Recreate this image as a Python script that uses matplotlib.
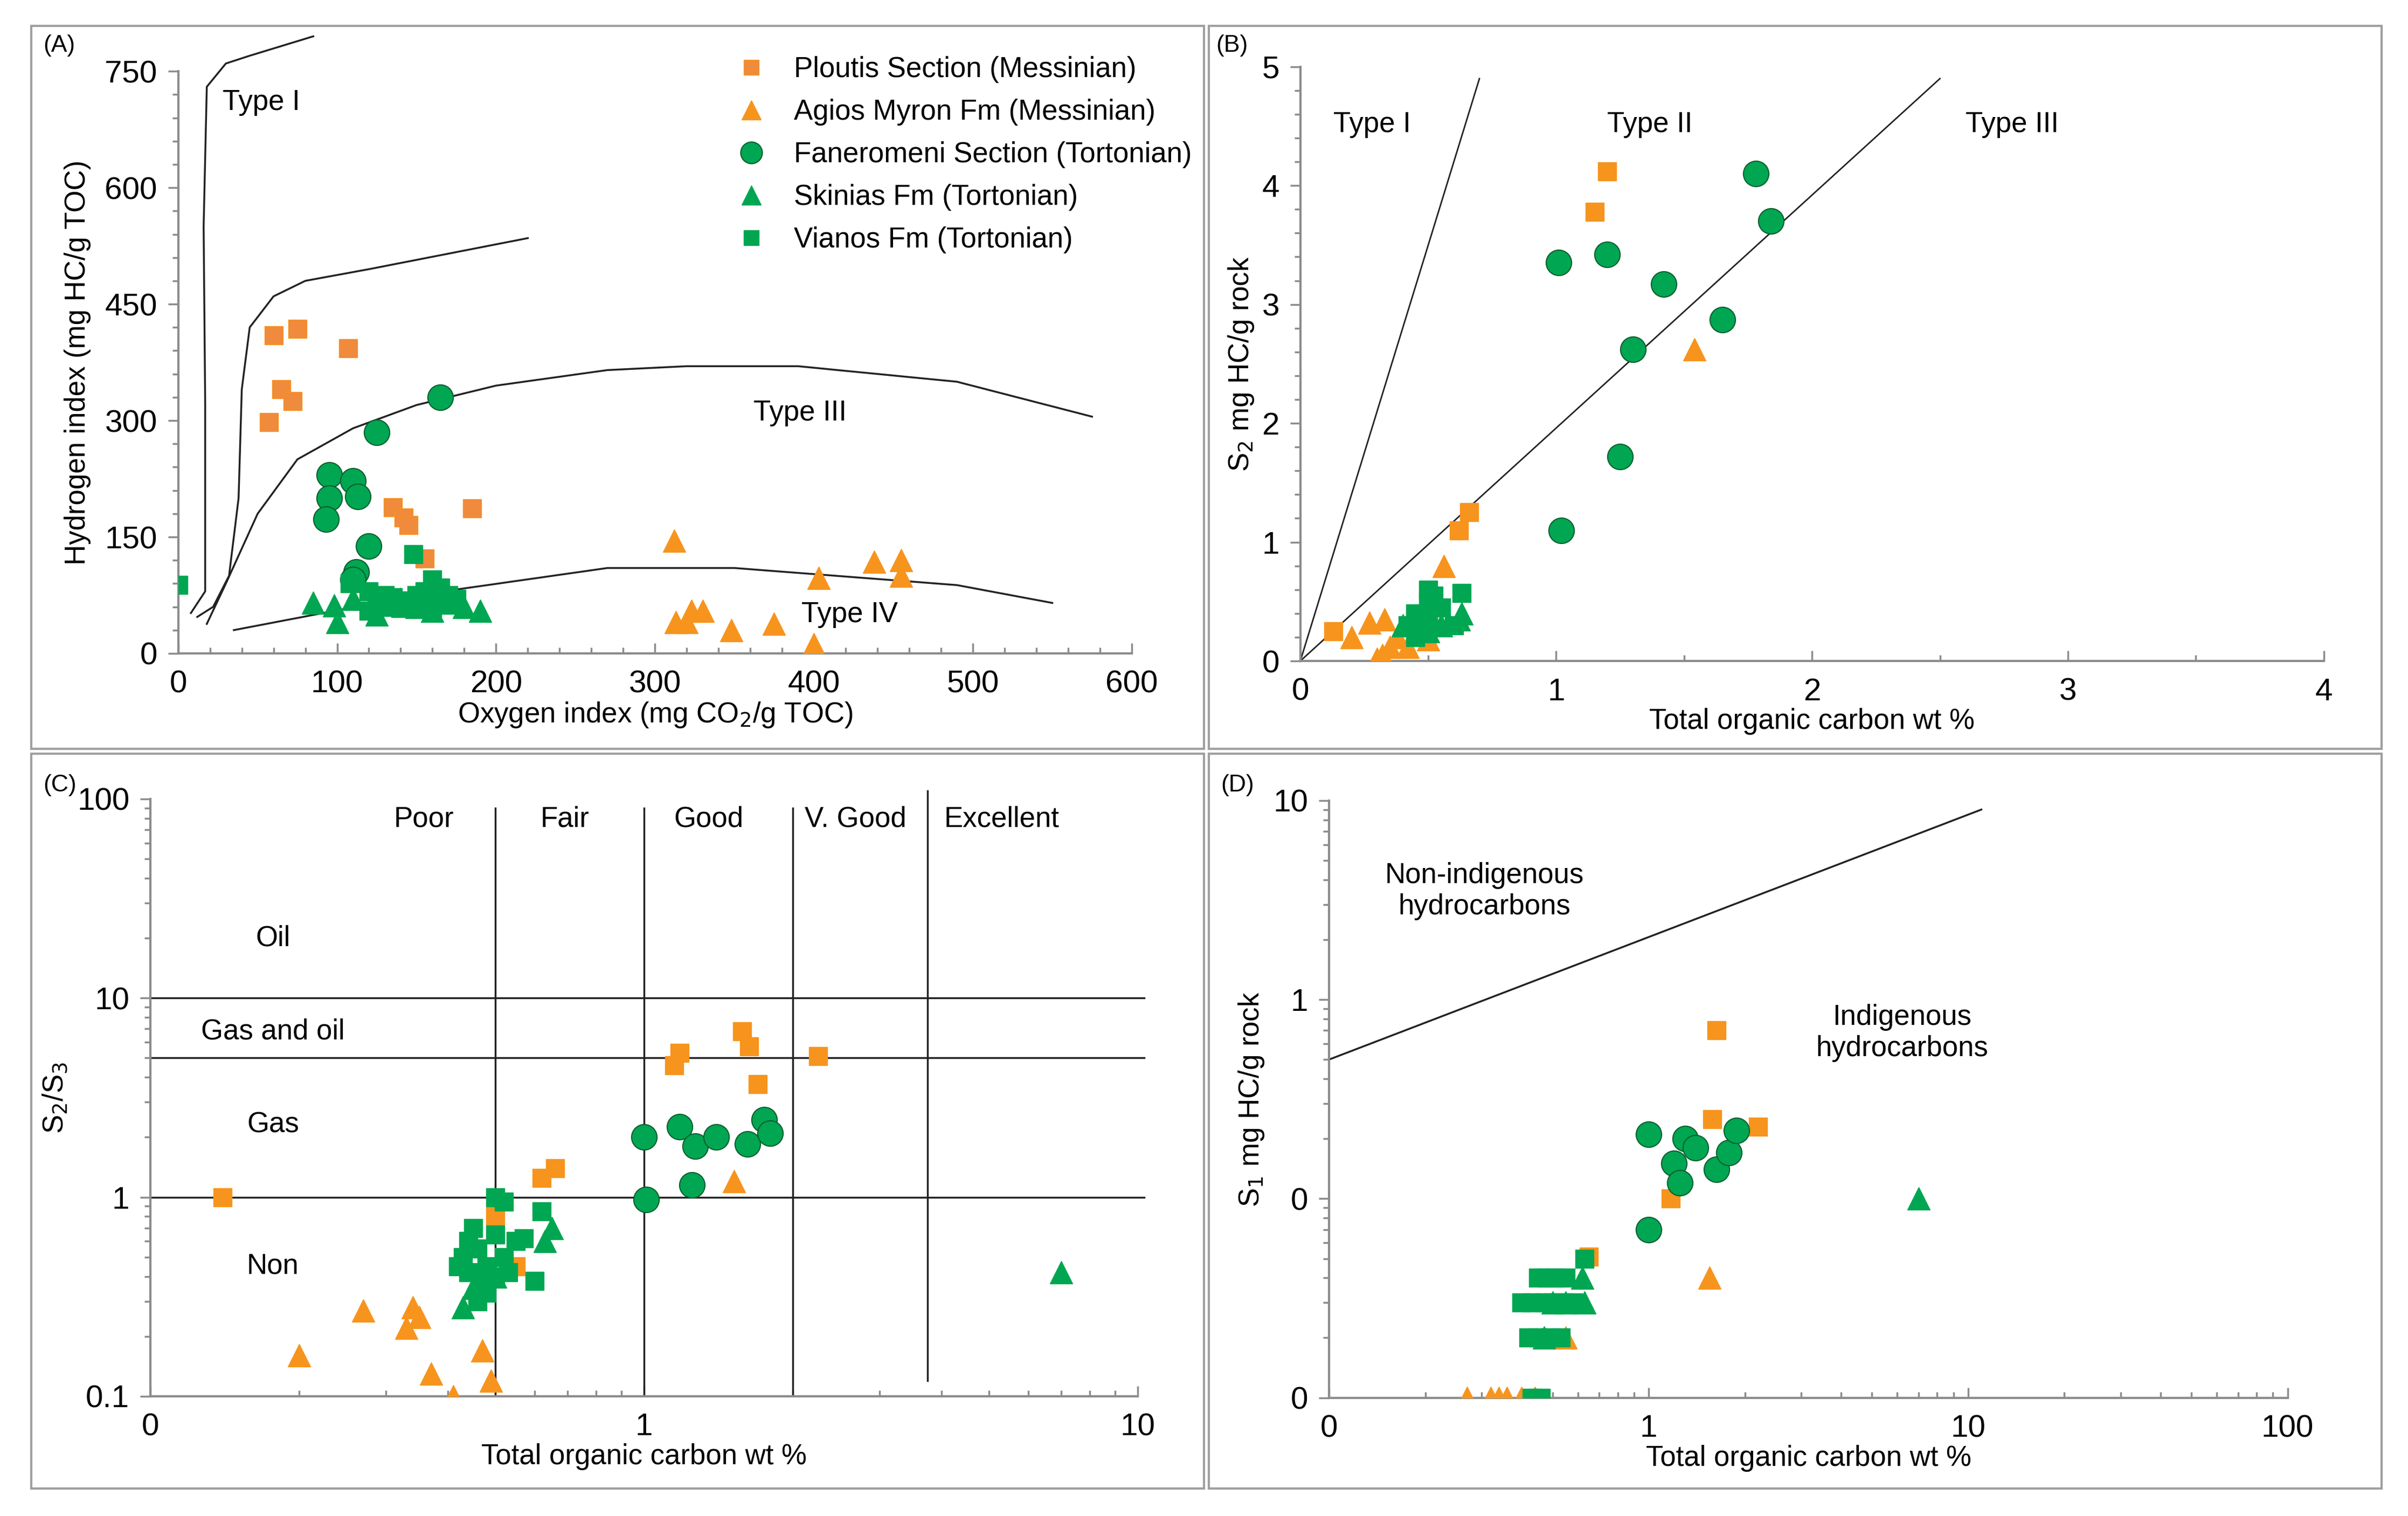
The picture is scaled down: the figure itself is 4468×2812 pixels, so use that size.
import numpy as np
import matplotlib.pyplot as plt
from matplotlib.patches import Rectangle
from matplotlib.ticker import MultipleLocator, FixedLocator, FixedFormatter, LogLocator, NullFormatter

plt.rcParams['font.family'] = ['Liberation Sans', 'DejaVu Sans']

ORANGE = '#F7941D'
ORANGE2 = '#F08A3C'
GREEN = '#00A651'
DKGREEN = '#0B5E2E'

names = ["Ploutis Section (Messinian)", "Agios Myron Fm (Messinian)",
         "Faneromeni Section (Tortonian)", "Skinias Fm (Tortonian)", "Vianos Fm (Tortonian)"]

# ---- panel A: OI vs HI
a_plo_x = [60, 75, 107, 65, 72, 57, 135, 142, 145, 185, 155]
a_plo_y = [410, 418, 393, 340, 325, 298, 188, 175, 165, 187, 122]
a_agi_x = [312, 313, 320, 323, 330, 348, 375, 400, 403, 438, 455, 455]
a_agi_y = [145, 40, 40, 55, 55, 30, 38, 12, 97, 118, 120, 100]
a_fan_x = [95, 95, 93, 110, 113, 125, 165, 120, 112, 110]
a_fan_y = [230, 200, 173, 222, 202, 285, 330, 138, 105, 95]
a_ski_x = [85, 98, 100, 110, 125, 140, 150, 165, 175, 180, 190, 170, 160]
a_ski_y = [65, 62, 40, 70, 50, 70, 60, 75, 70, 60, 55, 65, 55]
a_via_x = [0, 148, 108, 120, 125, 130, 135, 140, 145, 150, 155, 160, 165, 170, 175, 130, 140, 150, 160, 120]
a_via_y = [88, 128, 90, 80, 65, 75, 72, 68, 65, 75, 80, 95, 85, 75, 70, 60, 58, 62, 58, 55]

type1_x = [8, 17, 17, 16, 18, 30, 45, 85]
type1_y = [52, 80, 320, 550, 730, 760, 770, 795]
type2_x = [12, 22, 32, 38, 40, 45, 60, 80, 120, 220]
type2_y = [47, 60, 100, 200, 340, 420, 460, 480, 495, 535]
type3_x = [18, 30, 50, 75, 110, 150, 200, 270, 320, 390, 490, 575]
type3_y = [38, 90, 180, 250, 290, 320, 345, 365, 370, 370, 350, 305]
type4_x = [35, 150, 270, 350, 490, 550]
type4_y = [30, 75, 110, 110, 88, 65]

# ---- panel B: TOC vs S2
b_plo_x = [0.13, 1.15, 1.2, 0.62, 0.66]
b_plo_y = [0.25, 3.78, 4.12, 1.1, 1.25]
b_agi_x = [0.2, 0.27, 0.33, 0.3, 0.32, 0.35, 0.42, 0.5, 0.56, 1.54, 0.38]
b_agi_y = [0.2, 0.32, 0.35, 0.02, 0.05, 0.12, 0.12, 0.18, 0.8, 2.62, 0.2]
b_fan_x = [1.01, 1.2, 1.42, 1.78, 1.84, 1.65, 1.3, 1.25, 1.02]
b_fan_y = [3.35, 3.42, 3.17, 4.1, 3.7, 2.87, 2.62, 1.72, 1.1]
b_ski_x = [0.4, 0.45, 0.5, 0.63, 0.62, 0.55]
b_ski_y = [0.3, 0.35, 0.25, 0.4, 0.35, 0.3]
b_via_x = [0.42, 0.45, 0.5, 0.5, 0.55, 0.6, 0.63, 0.48, 0.52, 0.45, 0.5]
b_via_y = [0.3, 0.4, 0.6, 0.5, 0.45, 0.3, 0.57, 0.35, 0.55, 0.2, 0.3]

# ---- panel C: TOC vs S2/S3
c_plo_x = [0.14, 1.15, 1.18, 1.58, 1.63, 1.7, 2.25, 0.62, 0.66, 0.5, 0.55]
c_plo_y = [1.0, 4.6, 5.3, 6.8, 5.7, 3.7, 5.1, 1.25, 1.4, 0.8, 0.45]
c_agi_x = [0.2, 0.27, 0.33, 0.35, 0.34, 0.37, 0.41, 0.47, 0.49, 1.52]
c_agi_y = [0.16, 0.27, 0.22, 0.25, 0.28, 0.13, 0.1, 0.17, 0.12, 1.2]
c_fan_x = [1.0, 1.01, 1.18, 1.27, 1.4, 1.62, 1.75, 1.8, 1.25]
c_fan_y = [2.0, 0.97, 2.25, 1.8, 2.0, 1.85, 2.45, 2.1, 1.15]
c_ski_x = [7.0, 0.63, 0.65, 0.43, 0.45, 0.5]
c_ski_y = [0.42, 0.6, 0.7, 0.28, 0.35, 0.4]
c_via_x = [0.5, 0.52, 0.45, 0.44, 0.42, 0.43, 0.46, 0.48, 0.5, 0.52, 0.55, 0.57, 0.6, 0.62, 0.48, 0.47, 0.44, 0.5, 0.53, 0.46]
c_via_y = [1.0, 0.95, 0.7, 0.6, 0.45, 0.5, 0.55, 0.45, 0.4, 0.5, 0.6, 0.62, 0.38, 0.85, 0.33, 0.38, 0.42, 0.65, 0.42, 0.3]
quality_x = [0.5, 1, 2]
excellent_x = 3.75
ratio_y = [10, 5, 1]

# ---- panel D: TOC vs S1
d_plo_x = [1.63, 1.58, 2.2, 1.17, 0.65]
d_plo_y = [0.7, 0.25, 0.23, 0.1, 0.051]
d_agi_x = [0.27, 0.32, 0.34, 0.36, 0.4, 0.44, 1.55, 0.55]
d_agi_y = [0.01, 0.01, 0.01, 0.01, 0.01, 0.01, 0.04, 0.02]
d_fan_x = [1.0, 1.2, 1.3, 1.4, 1.25, 1.63, 1.78, 1.88, 1.0]
d_fan_y = [0.21, 0.15, 0.2, 0.18, 0.12, 0.14, 0.17, 0.22, 0.07]
d_ski_x = [7.0, 0.62, 0.63, 0.55, 0.5, 0.47]
d_ski_y = [0.1, 0.04, 0.03, 0.03, 0.03, 0.02]
d_via_x = [0.45, 0.48, 0.51, 0.55, 0.4, 0.43, 0.47, 0.5, 0.54, 0.58, 0.42, 0.45, 0.49, 0.53, 0.43, 0.46, 0.63]
d_via_y = [0.04, 0.04, 0.04, 0.04, 0.03, 0.03, 0.03, 0.03, 0.03, 0.03, 0.02, 0.02, 0.02, 0.02, 0.01, 0.01, 0.05]
d_line_x = [0.1, 11]
d_line_y = [0.5, 9]

TICK = 42
LAB = 38


def scatter_all(ax, sets, legend=False):
    styles = [dict(marker='s', color=ORANGE, ms=24, mec=ORANGE),
              dict(marker='^', color=ORANGE, ms=30, mec=ORANGE),
              dict(marker='o', color=GREEN, ms=34, mec=DKGREEN, mew=1.5),
              dict(marker='^', color=GREEN, ms=30, mec=GREEN),
              dict(marker='s', color=GREEN, ms=24, mec=GREEN)]
    for (x, y), st, nm in zip(sets, styles, names):
        ax.plot(x, y, ls='none', label=nm, zorder=3, **st)
    if legend:
        h, l = ax.get_legend_handles_labels()
        h[0].set_color(ORANGE2)
        ax.legend(h, l, loc='upper right', bbox_to_anchor=(1.09, 1.07), frameon=False,
                  fontsize=LAB, handletextpad=0.5, labelspacing=0.55, markerscale=0.85)


def style(ax):
    for s in ['top', 'right']:
        ax.spines[s].set_visible(False)
    for s in ['left', 'bottom']:
        ax.spines[s].set_color('#8c8c8c')
        ax.spines[s].set_linewidth(3)
    ax.tick_params(which='both', colors='#8c8c8c', labelcolor='black', labelsize=TICK, width=2.5)
    ax.tick_params(axis='y', which='major', direction='out', length=14, pad=14)
    ax.tick_params(axis='y', which='minor', direction='out', length=8)
    ax.tick_params(axis='x', which='major', direction='in', length=14, pad=22)
    ax.tick_params(axis='x', which='minor', direction='in', length=8)


def log_ticks(ax, xt, xl, yt, yl):
    ax.xaxis.set_major_locator(FixedLocator(xt))
    ax.xaxis.set_major_formatter(FixedFormatter(xl))
    ax.yaxis.set_major_locator(FixedLocator(yt))
    ax.yaxis.set_major_formatter(FixedFormatter(yl))
    ax.xaxis.set_minor_locator(LogLocator(subs=np.arange(2, 10)))
    ax.yaxis.set_minor_locator(LogLocator(subs=np.arange(2, 10)))
    ax.xaxis.set_minor_formatter(NullFormatter())
    ax.yaxis.set_minor_formatter(NullFormatter())


fig = plt.figure(figsize=(44.68, 28.12), dpi=100)

# panel frames
for (x0, y0, w, h) in [(0.013, 0.506, 0.487, 0.477), (0.502, 0.506, 0.487, 0.477),
                       (0.013, 0.018, 0.487, 0.485), (0.502, 0.018, 0.487, 0.485)]:
    fig.patches.append(Rectangle((x0, y0), w, h, transform=fig.transFigure,
                                 fill=False, ec='#a0a0a0', lw=3))

# A
ax = fig.add_axes([0.074, 0.569, 0.396, 0.384])
style(ax)
for cx, cy in [(type1_x, type1_y), (type2_x, type2_y), (type3_x, type3_y), (type4_x, type4_y)]:
    ax.plot(cx, cy, color='#222222', lw=2.5, zorder=2, clip_on=False)
scatter_all(ax, [(a_plo_x, a_plo_y), (a_agi_x, a_agi_y), (a_fan_x, a_fan_y),
                 (a_ski_x, a_ski_y), (a_via_x, a_via_y)], legend=True)
ax.set_xlim(0, 600)
ax.set_ylim(0, 750)
ax.set_xticks(range(0, 601, 100))
ax.set_yticks(range(0, 751, 150))
ax.xaxis.set_minor_locator(MultipleLocator(20))
ax.yaxis.set_minor_locator(MultipleLocator(30))
ax.text(28, 700, 'Type I', fontsize=LAB)
ax.text(362, 300, 'Type III', fontsize=LAB)
ax.text(392, 40, 'Type IV', fontsize=LAB)
ax.set_xlabel('Oxygen index (mg CO$_2$/g TOC)', fontsize=LAB, labelpad=2)
ax.set_ylabel('Hydrogen index (mg HC/g TOC)', fontsize=LAB, labelpad=18)
fig.text(0.018, 0.966, '(A)', fontsize=32)

# B
ax = fig.add_axes([0.540, 0.564, 0.425, 0.392])
style(ax)
ax.plot([0, 0.7], [0, 4.9], color='#222222', lw=2)
ax.plot([0, 2.5], [0, 4.9], color='#222222', lw=2)
scatter_all(ax, [(b_plo_x, b_plo_y), (b_agi_x, b_agi_y), (b_fan_x, b_fan_y),
                 (b_ski_x, b_ski_y), (b_via_x, b_via_y)])
ax.set_xlim(0, 4)
ax.set_ylim(0, 5)
ax.set_xticks(range(0, 5))
ax.set_yticks(range(0, 6))
ax.xaxis.set_minor_locator(MultipleLocator(0.5))
ax.yaxis.set_minor_locator(MultipleLocator(0.2))
ax.text(0.13, 4.45, 'Type I', fontsize=LAB)
ax.text(1.2, 4.45, 'Type II', fontsize=LAB)
ax.text(2.6, 4.45, 'Type III', fontsize=LAB)
ax.set_xlabel('Total organic carbon wt %', fontsize=LAB, labelpad=2)
ax.set_ylabel('S$_2$ mg HC/g rock', fontsize=LAB, labelpad=8)
fig.text(0.505, 0.966, '(B)', fontsize=32)

# C
ax = fig.add_axes([0.0625, 0.079, 0.410, 0.394])
style(ax)
ax.set_xscale('log')
ax.set_yscale('log')
for xv in quality_x:
    ax.plot([xv, xv], [0.1, 90], color='#222222', lw=2.5)
ax.plot([excellent_x, excellent_x], [0.12, 110], color='#222222', lw=2.5, clip_on=False)
for yv in ratio_y:
    ax.plot([0.1, 10.3], [yv, yv], color='#222222', lw=2.5, clip_on=False)
scatter_all(ax, [(c_plo_x, c_plo_y), (c_agi_x, c_agi_y), (c_fan_x, c_fan_y),
                 (c_ski_x, c_ski_y), (c_via_x, c_via_y)])
ax.set_xlim(0.1, 10)
ax.set_ylim(0.1, 100)
log_ticks(ax, [0.1, 1, 10], ['0', '1', '10'], [0.1, 1, 10, 100], ['0.1', '1', '10', '100'])
for tx, lab in [(0.358, 'Poor'), (0.69, 'Fair'), (1.35, 'Good'), (2.68, 'V. Good'), (5.3, 'Excellent')]:
    ax.text(tx, 79, lab, fontsize=LAB, ha='center', va='center')
for ty, lab in [(20, 'Oil'), (6.8, 'Gas and oil'), (2.3, 'Gas'), (0.45, 'Non')]:
    ax.text(0.177, ty, lab, fontsize=LAB, ha='center', va='center')
ax.set_xlabel('Total organic carbon wt %', fontsize=LAB, labelpad=2)
ax.set_ylabel('S$_2$/S$_3$', fontsize=LAB, labelpad=10)
fig.text(0.018, 0.478, '(C)', fontsize=32)

# D
ax = fig.add_axes([0.552, 0.078, 0.398, 0.394])
style(ax)
ax.set_xscale('log')
ax.set_yscale('log')
ax.plot(d_line_x, d_line_y, color='#222222', lw=2.5)
scatter_all(ax, [(d_plo_x, d_plo_y), (d_agi_x, d_agi_y), (d_fan_x, d_fan_y),
                 (d_ski_x, d_ski_y), (d_via_x, d_via_y)])
ax.set_xlim(0.1, 100)
ax.set_ylim(0.01, 10)
log_ticks(ax, [0.1, 1, 10, 100], ['0', '1', '10', '100'], [0.01, 0.1, 1, 10], ['0', '0', '1', '10'])
ax.text(0.306, 3.5, 'Non-indigenous\nhydrocarbons', fontsize=LAB, ha='center', va='center')
ax.text(6.2, 0.68, 'Indigenous\nhydrocarbons', fontsize=LAB, ha='center', va='center')
ax.set_xlabel('Total organic carbon wt %', fontsize=LAB, labelpad=2)
ax.set_ylabel('S$_1$ mg HC/g rock', fontsize=LAB, labelpad=10)
fig.text(0.507, 0.478, '(D)', fontsize=32)

fig.savefig('out.png', dpi=100)
